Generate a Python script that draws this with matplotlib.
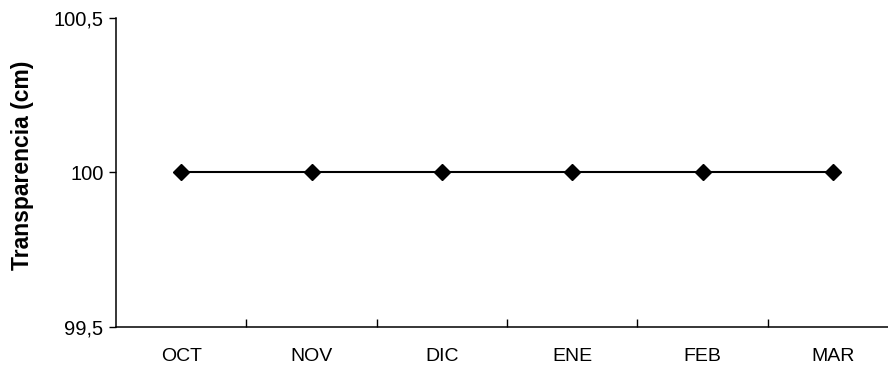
import matplotlib.pyplot as plt

plt.rcParams['font.family'] = ['Liberation Sans', 'DejaVu Sans']

meses = ["OCT", "NOV", "DIC", "ENE", "FEB", "MAR"]
transparencia = [100, 100, 100, 100, 100, 100]
yticks = [99.5, 100, 100.5]
ytick_labels = ["99,5", "100", "100,5"]

fig = plt.figure(figsize=(8.88, 3.72), dpi=100)
ax = fig.add_axes([0.1307, 0.121, 0.8806, 0.8306])

x = range(len(meses))
ax.plot(x, transparencia, color='black', linewidth=1.5,
        marker='D', markersize=8, markerfacecolor='black')

ax.set_xlim(-0.5, len(meses) - 0.5)
ax.set_ylim(99.5, 100.5)

# etiquetas de mes centradas, marcas entre categorías
ax.set_xticks(list(x))
ax.set_xticklabels(meses, fontsize=14)
ax.set_xticks([i + 0.5 for i in range(len(meses) - 1)], minor=True)
ax.tick_params(axis='x', which='major', length=0, pad=15)
ax.tick_params(axis='x', which='minor', direction='in', length=6, width=1)

ax.set_yticks(yticks)
ax.set_yticklabels(ytick_labels, fontsize=14.5)
ax.tick_params(axis='y', direction='out', length=5, width=1, pad=4)

ax.set_ylabel("Transparencia (cm)", fontsize=16.5, fontweight='bold',
              va='center')
ax.yaxis.set_label_coords(-0.12, 0.524)

ax.spines['top'].set_visible(False)
ax.spines['right'].set_visible(False)
for s in ('left', 'bottom'):
    ax.spines[s].set_linewidth(1.1)

plt.savefig("out.png", dpi=100)
